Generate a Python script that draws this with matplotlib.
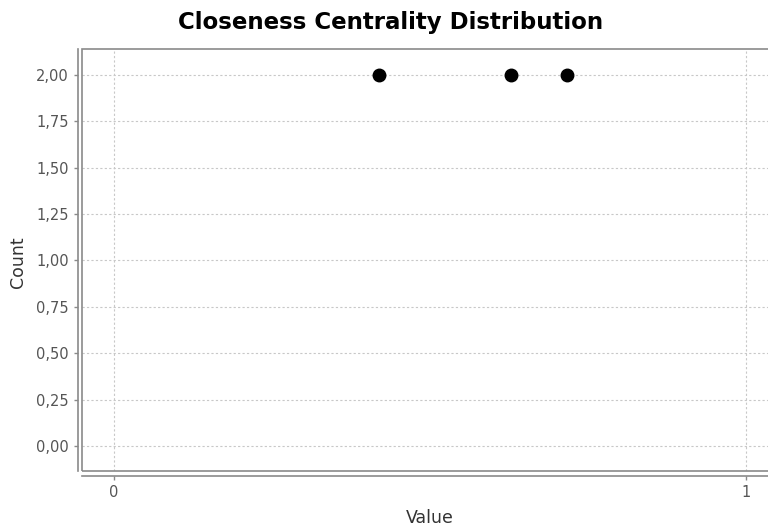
import matplotlib.pyplot as plt
from matplotlib.patches import Rectangle
from matplotlib.ticker import FuncFormatter

# closeness centrality values and how often each occurs
values = [0.419, 0.628, 0.717]
counts = [2, 2, 2]

y_ticks = [0, 0.25, 0.5, 0.75, 1.0, 1.25, 1.5, 1.75, 2.0]
x_ticks = [0, 1]

fig = plt.figure(figsize=(7.68, 5.30), dpi=100)
W, H = 768, 530
left, right, top, bottom = 82, 768, 49, 471
ax = fig.add_axes([left / W, (H - bottom) / H, (right - left) / W, (bottom - top) / H])

ax.plot(values, counts, 'o', color='black', markersize=9, zorder=3)

ax.set_xlim(-0.0506, 1.035)
ax.set_ylim(-0.135, 2.14)
ax.set_xticks(x_ticks)
ax.set_yticks(y_ticks)
ax.xaxis.set_major_formatter(FuncFormatter(lambda v, p: '%d' % v))
ax.yaxis.set_major_formatter(FuncFormatter(lambda v, p: ('%.2f' % v).replace('.', ',')))

ax.grid(True, color='#c8c8c8', linestyle=(0, (2, 2)), linewidth=0.8)
ax.set_axisbelow(True)

# axis lines sit slightly outside the plot box
for side in ['top', 'right']:
    ax.spines[side].set_visible(False)
ax.spines['left'].set_position(('outward', 3))
ax.spines['bottom'].set_position(('outward', 3.5))
for side in ['left', 'bottom']:
    ax.spines[side].set_color('#8a8a8a')
    ax.spines[side].set_linewidth(1.2)
# plot box runs off the right edge of the image
ax.add_patch(Rectangle((0, 0), 1.05, 1, transform=ax.transAxes, fill=False,
                       edgecolor='#8a8a8a', linewidth=1.2, clip_on=False, zorder=4))

ax.tick_params(colors='#8a8a8a', labelcolor='#555555', labelsize=10.5, length=3, width=1)

fig.text(0.509, 0.958, 'Closeness Centrality Distribution', ha='center', va='center',
         fontsize=16.5, fontweight='bold')
fig.text(0.024, 0.505, 'Count', rotation=90, ha='center', va='center', fontsize=12.5, color='#333333')
fig.text(0.56, 0.023, 'Value', ha='center', va='center', fontsize=12.5, color='#333333')

plt.savefig('out.png', dpi=100)
